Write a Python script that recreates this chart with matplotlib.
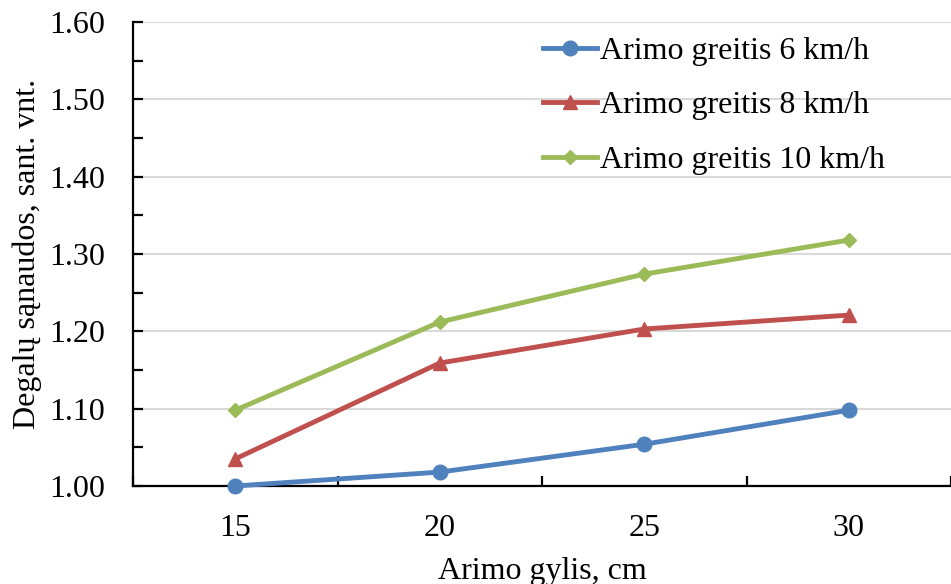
import matplotlib.pyplot as plt
import numpy as np

plt.rcParams['font.family'] = ['Liberation Serif', 'DejaVu Serif']

depths = ['15', '20', '25', '30']
speed_6 = [1.000, 1.018, 1.054, 1.098]
speed_8 = [1.035, 1.159, 1.203, 1.221]
speed_10 = [1.098, 1.212, 1.274, 1.318]
labels = ['Arimo greitis 6 km/h', 'Arimo greitis 8 km/h', 'Arimo greitis 10 km/h']

colors = ['#4F81BD', '#C0504D', '#9BBB59']
markers = ['o', '^', 'D']
msizes = [10.5, 10, 7.5]
fs = 23

W, H = 951, 584
fig = plt.figure(figsize=(W / 100, H / 100), dpi=100)
ax = fig.add_axes([133 / W, (H - 486) / H, (951 - 133) / W, (486 - 22) / H])

x = np.arange(len(depths))
for vals, lab, c, m, ms in zip([speed_6, speed_8, speed_10], labels, colors, markers, msizes):
    ax.plot(x, vals, color=c, lw=3.5, marker=m, ms=ms, label=lab, clip_on=False, zorder=3)

ax.set_xlim(-0.5, len(depths) - 0.5)
ax.set_ylim(1.0, 1.6)
ax.set_yticks(np.arange(1.0, 1.61, 0.1))
ax.set_yticks(np.arange(1.05, 1.6, 0.1), minor=True)
ax.set_yticklabels([f'{v:.2f}' for v in np.arange(1.0, 1.61, 0.1)])
ax.set_xticks(x)
ax.set_xticklabels(depths)
ax.set_xticks(np.arange(-0.5, len(depths), 1.0), minor=True)

ax.grid(axis='y', color='#D9D9D9', lw=1.5, zorder=0)
ax.set_axisbelow(True)
for s in ['top', 'right']:
    ax.spines[s].set_visible(False)
for s in ['left', 'bottom']:
    ax.spines[s].set_linewidth(1.6)
    ax.spines[s].set_color('black')

ax.tick_params(axis='y', which='both', direction='in', length=7, width=1.6, labelsize=fs, pad=20)
ax.tick_params(axis='x', which='major', length=0, labelsize=fs, pad=20)
ax.tick_params(axis='x', which='minor', direction='in', length=7, width=1.6)

ax.set_xlabel('Arimo gylis, cm', fontsize=fs, labelpad=10)
ax.set_ylabel('Degalų sąnaudos, sant. vnt.', fontsize=fs, labelpad=5)

ax.legend(loc='upper left', bbox_to_anchor=(0.466, 1.03), frameon=False, fontsize=fs,
          handlelength=1.7, handletextpad=0.1, labelspacing=0.78)

fig.savefig('out.png', dpi=100)
